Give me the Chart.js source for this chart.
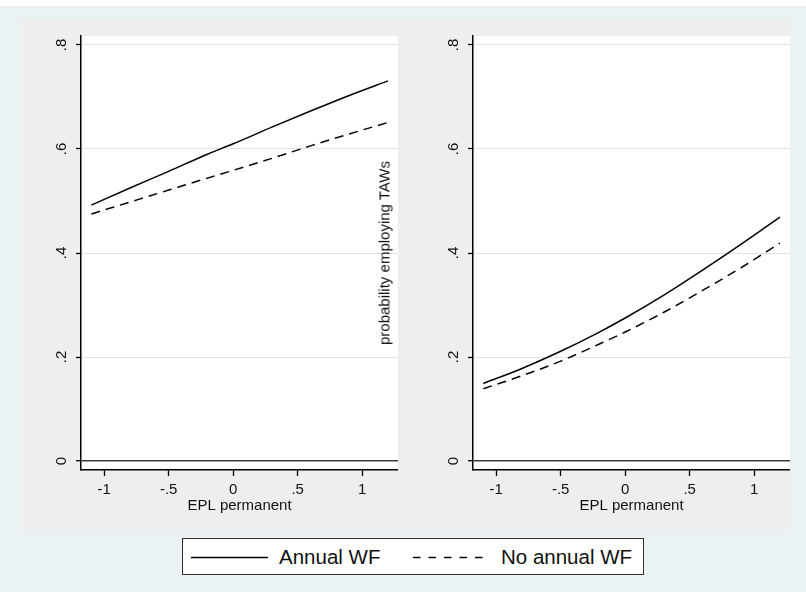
<!DOCTYPE html>
<html>
<head>
<meta charset="utf-8">
<script src="https://cdn.jsdelivr.net/npm/chart.js@4.4.0/dist/chart.umd.min.js"></script>
<style>
  html, body { margin: 0; padding: 0; }
  body { width: 806px; height: 592px; background: #eaf2f3; position: relative; overflow: hidden;
         font-family: 'Liberation Sans', Arial, sans-serif; }
  #topband { position: absolute; left: 0; top: 0; width: 806px; height: 6px; background: #fff; }
  #panelBg { position: absolute; left: 21px; top: 19px; width: 769px; height: 511px; background: #eeeeee; }
  canvas { position: absolute; }
  #leftChart { left: 21px; top: 19px; }
  #rightChart { left: 413px; top: 19px; }
  #ytitle { position: absolute; left: 384px; top: 253px; transform: translate(-50%, -50%) rotate(-90deg);
            font-size: 15px; color: #111; white-space: nowrap; }
  #legend { position: absolute; left: 182px; top: 538px; width: 462px; height: 37px; background: #fff;
            border: 1px solid #333; box-sizing: border-box; }
  #legend svg { position: absolute; left: 0; top: 0; }
  #legend span { position: absolute; top: 6px; font-size: 20.5px; color: #111; white-space: nowrap; }
</style>
</head>
<body>
<div id="topband"></div>
<div id="panelBg"></div>
<canvas id="leftChart" width="377" height="511"></canvas>
<canvas id="rightChart" width="377" height="511"></canvas>
<div id="ytitle">probability employing TAWs</div>
<div id="legend">
  <svg width="462" height="37">
    <line x1="8" y1="18.5" x2="85" y2="18.5" stroke="#000" stroke-width="1.5"/>
    <line x1="230" y1="18.5" x2="306" y2="18.5" stroke="#000" stroke-width="1.5" stroke-dasharray="7.5 8"/>
  </svg>
  <span style="left: 96px;">Annual WF</span>
  <span style="left: 318px;">No annual WF</span>
</div>
<script>
// EPL permanent (x) and predicted probabilities
const epl = [-1.1, -0.8, -0.5, -0.2, 0, 0.3, 0.6, 0.9, 1.2];
const leftAnnual   = [0.492, 0.525, 0.557, 0.590, 0.610, 0.642, 0.673, 0.703, 0.731];
const leftNoAnnual = [0.475, 0.498, 0.521, 0.544, 0.559, 0.582, 0.606, 0.629, 0.651];
const rightAnnual   = [0.149, 0.178, 0.211, 0.248, 0.275, 0.319, 0.367, 0.417, 0.469];
const rightNoAnnual = [0.139, 0.164, 0.192, 0.225, 0.248, 0.286, 0.328, 0.372, 0.419];

const xTicks = [-1, -0.5, 0, 0.5, 1];
const xTickLabels = ['-1', '-.5', '0', '.5', '1'];
const yTicks = [0, 0.2, 0.4, 0.6, 0.8];
const yTickLabels = ['0', '.2', '.4', '.6', '.8'];

const FONT = "'Liberation Sans', Arial, sans-serif";

// white plot region + rotated y tick labels (Stata style)
const plotDecor = {
    id: 'plotDecor',
    beforeDraw(chart) {
        const a = chart.chartArea;
        const c = chart.ctx;
        c.save();
        c.fillStyle = '#ffffff';
        c.fillRect(a.left, a.top, a.right - a.left, a.bottom - a.top);
        c.restore();
    },
    afterDraw(chart) {
        const c = chart.ctx;
        const y = chart.scales.y;
        c.save();
        c.font = '15px ' + FONT;
        c.fillStyle = '#111';
        c.textAlign = 'center';
        c.textBaseline = 'middle';
        yTicks.forEach((v, i) => {
            c.save();
            c.translate(chart.chartArea.left - 19, y.getPixelForValue(v));
            c.rotate(-Math.PI / 2);
            c.fillText(yTickLabels[i], 0, 0);
            c.restore();
        });
        c.restore();
    }
};

function makePanel(id, annual, noAnnual) {
    const toPts = arr => epl.map((x, i) => ({ x: x, y: arr[i] }));
    return new Chart(document.getElementById(id), {
        type: 'line',
        data: {
            datasets: [
                {
                    label: 'Annual WF',
                    data: toPts(annual),
                    borderColor: '#000',
                    borderWidth: 1.5,
                    pointRadius: 0,
                    cubicInterpolationMode: 'monotone',
                    fill: false
                },
                {
                    label: 'No annual WF',
                    data: toPts(noAnnual),
                    borderColor: '#000',
                    borderWidth: 1.5,
                    borderDash: [9, 6],
                    pointRadius: 0,
                    cubicInterpolationMode: 'monotone',
                    fill: false
                }
            ]
        },
        options: {
            responsive: false,
            animation: false,
            devicePixelRatio: 1,
            layout: { padding: { left: 0, right: 0, top: 17, bottom: 15 } },
            plugins: {
                legend: { display: false },
                tooltip: { enabled: false }
            },
            scales: {
                x: {
                    type: 'linear',
                    min: -1.18,
                    max: 1.278,
                    afterBuildTicks: s => { s.ticks = xTicks.map(v => ({ value: v })); },
                    afterFit: s => { s.height = 45; },
                    ticks: {
                        font: { size: 15, family: FONT },
                        color: '#111',
                        padding: 5,
                        maxRotation: 0,
                        callback: (v) => xTickLabels[xTicks.indexOf(v)]
                    },
                    grid: {
                        drawOnChartArea: false,
                        drawTicks: true,
                        tickLength: 6,
                        tickColor: '#000',
                        tickWidth: 1.3
                    },
                    border: { display: true, color: '#000', width: 1.5 },
                    title: {
                        display: true,
                        text: 'EPL permanent',
                        font: { size: 15, family: FONT },
                        color: '#111',
                        padding: { top: 0, bottom: 0 }
                    }
                },
                y: {
                    type: 'linear',
                    min: -0.0173,
                    max: 0.8173,
                    afterBuildTicks: s => { s.ticks = yTicks.map(v => ({ value: v })); },
                    afterFit: s => { s.width = 60; },
                    ticks: { display: false },
                    grid: {
                        drawTicks: true,
                        tickLength: 5,
                        tickColor: '#000',
                        tickWidth: 1.3,
                        color: c => (c.tick && c.tick.value === 0) ? '#3a3a3a' : '#e2e2e2',
                        lineWidth: c => (c.tick && c.tick.value === 0) ? 1.4 : 1
                    },
                    border: { display: true, color: '#000', width: 1.5 }
                }
            }
        },
        plugins: [plotDecor]
    });
}

makePanel('leftChart', leftAnnual, leftNoAnnual);
makePanel('rightChart', rightAnnual, rightNoAnnual);
</script>
</body>
</html>
